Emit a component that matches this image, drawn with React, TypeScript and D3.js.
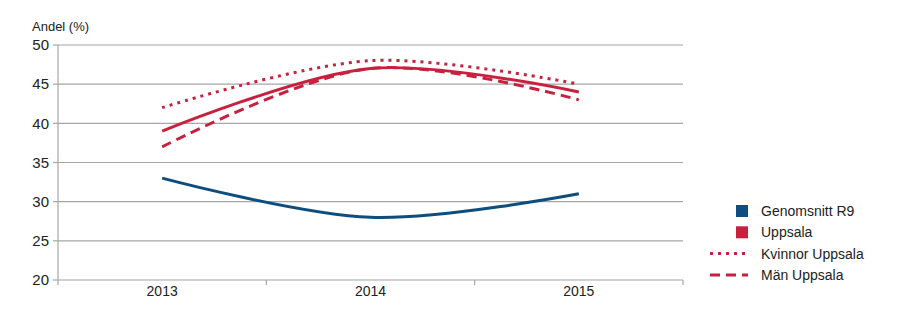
import React, { useEffect, useRef } from "react";
import * as d3 from "d3";

const years = ["2013", "2014", "2015"];
const genomsnittR9 = [33, 28, 31];
const uppsala = [39, 47, 44];
const kvinnorUppsala = [42, 48, 45];
const manUppsala = [37, 47, 43];
const yTicks = [20, 25, 30, 35, 40, 45, 50];

const BLUE = "#0e4d7e";
const RED = "#c8213f";

const App: React.FC = () => {
  const ref = useRef<SVGSVGElement>(null);

  useEffect(() => {
    const width = 900;
    const height = 326;
    const left = 58;
    const right = 683;
    const top = 45;
    const bottom = 280;

    const svg = d3.select(ref.current);
    svg.selectAll("*").remove(); // Clear
    svg.attr("width", width).attr("height", height);

    const x = d3.scaleBand<string>().domain(years).range([left, right]);
    const y = d3.scaleLinear().domain([20, 50]).range([bottom, top]);
    const font = "'Liberation Sans', Arial, sans-serif";

    // grid
    svg
      .append("g")
      .selectAll("line")
      .data(yTicks.filter((t) => t > 20))
      .enter()
      .append("line")
      .attr("x1", left)
      .attr("x2", right)
      .attr("y1", (d) => y(d))
      .attr("y2", (d) => y(d))
      .attr("stroke", "#a6a6a6")
      .attr("stroke-width", 1.2);

    // y axis
    const yAxis = svg.append("g");
    yAxis
      .append("line")
      .attr("x1", left)
      .attr("x2", left)
      .attr("y1", top)
      .attr("y2", bottom)
      .attr("stroke", "#a6a6a6")
      .attr("stroke-width", 1.2);
    yAxis
      .selectAll("line.tick")
      .data(yTicks)
      .enter()
      .append("line")
      .attr("class", "tick")
      .attr("x1", left - 5)
      .attr("x2", left)
      .attr("y1", (d) => y(d))
      .attr("y2", (d) => y(d))
      .attr("stroke", "#a6a6a6")
      .attr("stroke-width", 1.2);
    yAxis
      .selectAll("text")
      .data(yTicks)
      .enter()
      .append("text")
      .attr("x", left - 9)
      .attr("y", (d) => y(d))
      .attr("dy", "0.35em")
      .attr("text-anchor", "end")
      .style("font-family", font)
      .style("font-size", "15px")
      .attr("fill", "#222")
      .text((d) => d);

    svg
      .append("text")
      .attr("x", 32)
      .attr("y", 31)
      .style("font-family", font)
      .style("font-size", "13px")
      .attr("fill", "#222")
      .text("Andel (%)");

    // x axis
    const xAxis = svg.append("g");
    xAxis
      .append("line")
      .attr("x1", left)
      .attr("x2", right)
      .attr("y1", bottom)
      .attr("y2", bottom)
      .attr("stroke", "#a6a6a6")
      .attr("stroke-width", 1.2);
    const edges = years.map((yr) => x(yr)!).concat([right]);
    xAxis
      .selectAll("line.tick")
      .data(edges)
      .enter()
      .append("line")
      .attr("class", "tick")
      .attr("x1", (d) => d)
      .attr("x2", (d) => d)
      .attr("y1", bottom)
      .attr("y2", bottom + 5)
      .attr("stroke", "#a6a6a6")
      .attr("stroke-width", 1.2);
    xAxis
      .selectAll("text")
      .data(years)
      .enter()
      .append("text")
      .attr("x", (d) => x(d)! + x.bandwidth() / 2)
      .attr("y", bottom + 16)
      .attr("text-anchor", "middle")
      .style("font-family", font)
      .style("font-size", "14px")
      .attr("fill", "#222")
      .text((d) => d);

    // series
    const series = [
      { name: "Genomsnitt R9", values: genomsnittR9, color: BLUE, dash: null as string | null },
      { name: "Uppsala", values: uppsala, color: RED, dash: null },
      { name: "Kvinnor Uppsala", values: kvinnorUppsala, color: RED, dash: "3,5" },
      { name: "Män Uppsala", values: manUppsala, color: RED, dash: "10,6" },
    ];

    const line = d3
      .line<number>()
      .x((_, i) => x(years[i])! + x.bandwidth() / 2)
      .y((d) => y(d))
      .curve(d3.curveCatmullRom.alpha(0.5));

    series.forEach((s) => {
      svg
        .append("path")
        .attr("d", line(s.values))
        .attr("fill", "none")
        .attr("stroke", s.color)
        .attr("stroke-width", 3)
        .attr("stroke-dasharray", s.dash);
    });

    // legend
    const legend = svg
      .selectAll(".legend")
      .data(series)
      .enter()
      .append("g")
      .attr("class", "legend")
      .attr("transform", (_, i) => `translate(0,${211 + i * 21.3})`);

    legend.each(function (s) {
      const g = d3.select(this);
      if (s.dash) {
        g.append("line")
          .attr("x1", 710)
          .attr("x2", 748)
          .attr("y1", 0)
          .attr("y2", 0)
          .attr("stroke", s.color)
          .attr("stroke-width", 3)
          .attr("stroke-dasharray", s.dash);
      } else {
        g.append("rect")
          .attr("x", 736)
          .attr("y", -6)
          .attr("width", 12)
          .attr("height", 12)
          .attr("fill", s.color);
      }
    });

    legend
      .append("text")
      .attr("x", 761)
      .attr("y", 0)
      .attr("dy", "0.35em")
      .style("font-family", font)
      .style("font-size", "14px")
      .attr("fill", "#222")
      .text((d) => d.name);
  }, []);

  return <svg ref={ref} style={{ position: "absolute", left: 0, top: 0 }}></svg>;
};

export default App;
